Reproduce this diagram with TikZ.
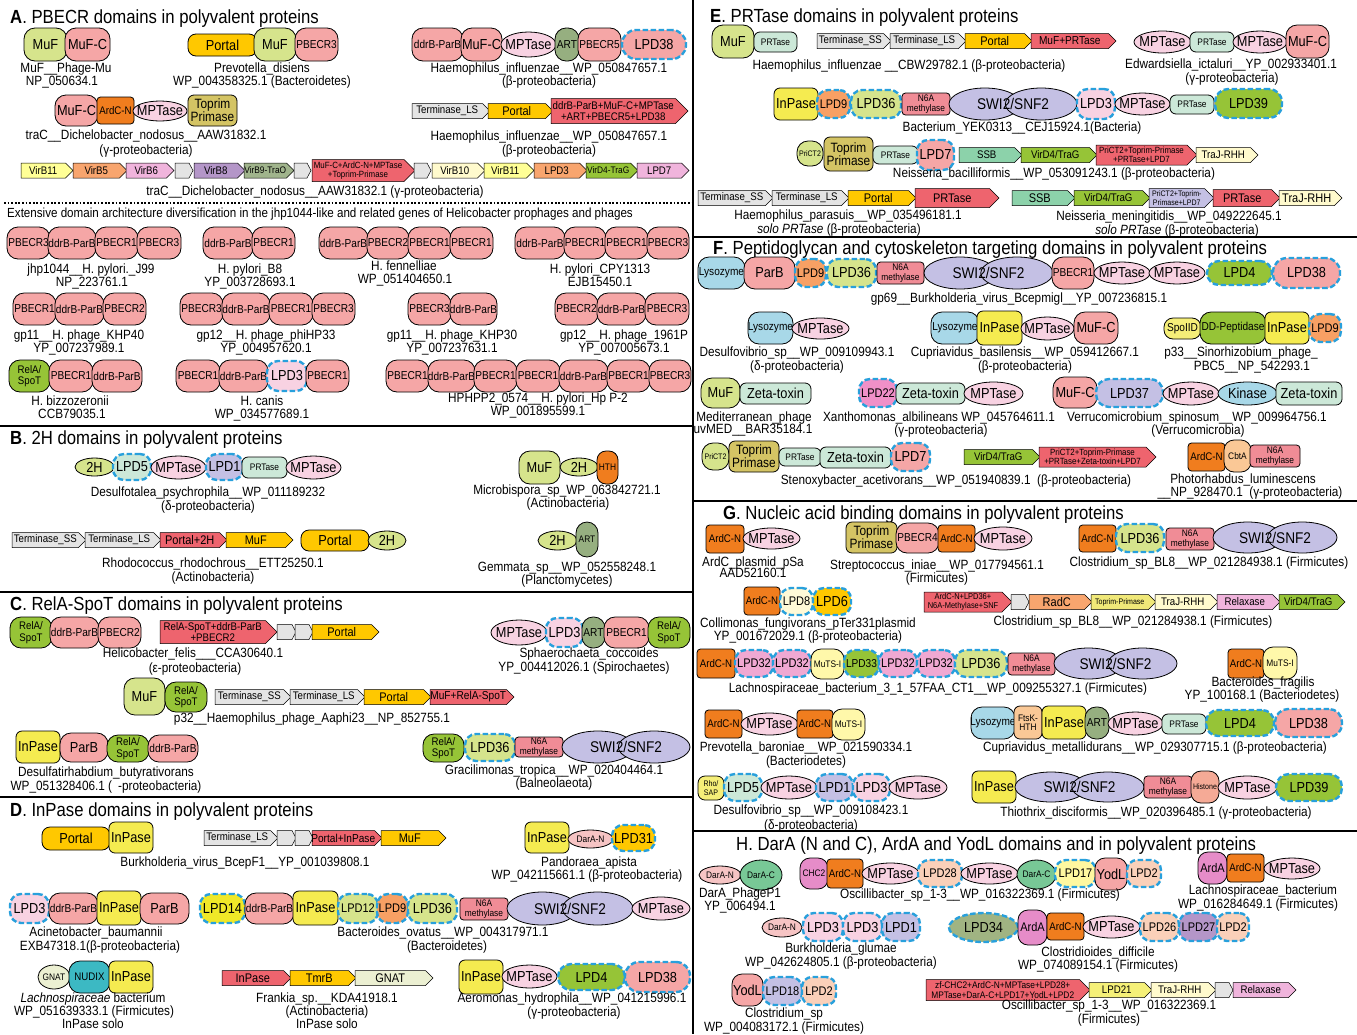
\documentclass[tikz,border=0pt]{standalone}
\usepackage{fontspec}
\setmainfont{Liberation Sans}[FakeStretch=0.88]
\usetikzlibrary{shapes.geometric}
\definecolor{cPk}{RGB}{245,166,166}
\definecolor{cLg}{RGB}{214,228,140}
\definecolor{cYo}{RGB}{255,200,0}
\definecolor{cMp}{RGB}{248,210,226}
\definecolor{cAr}{RGB}{150,175,128}
\definecolor{cTp}{RGB}{212,196,100}
\definecolor{cOc}{RGB}{240,125,30}
\definecolor{cGr}{RGB}{150,196,55}
\definecolor{cIp}{RGB}{245,235,80}
\definecolor{cN6}{RGB}{240,140,150}
\definecolor{cLv}{RGB}{196,192,228}
\definecolor{cMt}{RGB}{204,232,216}
\definecolor{cO9}{RGB}{248,160,100}
\definecolor{cY14}{RGB}{240,232,40}
\definecolor{cLb}{RGB}{168,216,232}
\definecolor{cDn}{RGB}{246,196,196}
\definecolor{cDc}{RGB}{120,200,150}
\definecolor{cChc}{RGB}{230,140,200}
\definecolor{cL28}{RGB}{250,208,185}
\definecolor{cL17}{RGB}{255,248,160}
\definecolor{cL8}{RGB}{255,250,215}
\definecolor{cL32}{RGB}{240,168,210}
\definecolor{cL34}{RGB}{160,180,130}
\definecolor{cL22}{RGB}{240,144,200}
\definecolor{cL21}{RGB}{245,240,120}
\definecolor{cMts}{RGB}{255,248,170}
\definecolor{cSpd}{RGB}{245,238,120}
\definecolor{cCb}{RGB}{250,200,150}
\definecolor{cHs}{RGB}{245,170,150}
\definecolor{cTe}{RGB}{60,185,195}
\definecolor{cCr}{RGB}{255,250,205}
\definecolor{cGn}{RGB}{236,240,210}
\definecolor{cGy}{RGB}{228,228,228}
\definecolor{cRd}{RGB}{238,100,110}
\definecolor{cOr}{RGB}{248,165,110}
\definecolor{cPn}{RGB}{240,180,220}
\definecolor{cPur}{RGB}{180,150,200}
\definecolor{cGg}{RGB}{160,180,140}
\definecolor{cYl}{RGB}{255,255,150}
\definecolor{cSsb}{RGB}{140,210,170}
\definecolor{cTpa}{RGB}{240,232,120}
\definecolor{cBlue}{RGB}{40,160,220}
\newcommand\FzA{\fontsize{14.5}{14}\selectfont}
\newcommand\FzB{\fontsize{12.5}{12.5}\selectfont}
\newcommand\FzC{\fontsize{11.5}{11.5}\selectfont}
\newcommand\FzD{\fontsize{11}{11.5}\selectfont}
\newcommand\FzE{\fontsize{9.5}{9.5}\selectfont}
\newcommand\FzF{\fontsize{8}{8.5}\selectfont}
\newcommand\FzG{\fontsize{11}{11}\selectfont}
\newcommand\FzS{\fontsize{15.5}{15.5}\selectfont}
\newcommand\FzL{\fontsize{13.4}{13.4}\selectfont}
\newcommand\FzT{\fontsize{19}{19}\selectfont}
\newcommand\FzP{\fontsize{13.5}{13}\selectfont}
\newcommand\FzX{\fontsize{13.2}{13.2}\selectfont}
\newcounter{nn}
\tikzset{
 base/.style={draw=black,line width=0.8pt,inner sep=0pt},
 rb/.style={base,rectangle,rounded corners=11pt},
 rm/.style={base,rectangle,rounded corners=6pt},
 rs/.style={base,rectangle,rounded corners=3.5pt},
 rp/.style={base,rectangle,rounded corners=8pt},
 el/.style={base,ellipse},
 lpd/.style={draw=cBlue,line width=2.4pt,dash pattern=on 5.5pt off 2.5pt},
 txt/.style={inner sep=0pt,align=center},
 lab/.style={inner sep=0pt,anchor=base,yshift=-4.7pt,font=\FzL},
 ttl/.style={anchor=base west,inner sep=0pt,font=\FzT},
 sep/.style={line width=2.6pt},
 F1/.style={font=\FzA}, F2/.style={font=\FzB}, F3/.style={font=\FzC},
 F4/.style={font=\FzD}, F5/.style={font=\FzE}, F6/.style={font=\FzF},
 FP/.style={font=\FzP},
 pk/.style={fill=cPk}, lg/.style={fill=cLg}, yo/.style={fill=cYo},
 mp/.style={fill=cMp}, ar/.style={fill=cAr}, tp/.style={fill=cTp},
 oc/.style={fill=cOc}, gr/.style={fill=cGr}, ip/.style={fill=cIp},
 n6/.style={fill=cN6}, lv/.style={fill=cLv}, mt/.style={fill=cMt},
 o9/.style={fill=cO9}, y14/.style={fill=cY14}, lb/.style={fill=cLb},
 dn/.style={fill=cDn}, dc/.style={fill=cDc}, chc/.style={fill=cChc},
 l28/.style={fill=cL28}, l17/.style={fill=cL17}, l8/.style={fill=cL8},
 l32/.style={fill=cL32}, l34/.style={fill=cL34}, l22/.style={fill=cL22},
 l21/.style={fill=cL21}, mts/.style={fill=cMts}, spd/.style={fill=cSpd},
 cb/.style={fill=cCb}, hs/.style={fill=cHs}, te/.style={fill=cTe},
 cr/.style={fill=cCr}, gn/.style={fill=cGn}, gy/.style={fill=cGy},
 rd/.style={fill=cRd}, orx/.style={fill=cOr}, pn2/.style={fill=cPn},
 pur/.style={fill=cPur}, gg/.style={fill=cGg}, yl/.style={fill=cYl},
 ssb/.style={fill=cSsb}, tpa/.style={fill=cTpa}
}
% domain: [font style]{shape style}{x1}{x2}{y1}{y2}{text}
\newcommand\Dm[7][F1]{\stepcounter{nn}%
 \node[#2,minimum width={(#4)-(#3)},minimum height={(#6)-(#5)}] (n\arabic{nn}) at ({((#3)+(#4))/2},{((#5)+(#6))/2}) {};%
 \node[txt,#1] (t\arabic{nn}) at ({((#3)+(#4))/2},{((#5)+(#6))/2}) {#7};}
% gene arrow: [font]{fill style}{x1}{x2}{yc}{h}{text}
\newcommand\Gn[7][\FzG]{\stepcounter{nn}%
 \filldraw[#2,draw=black,line width=0.5pt] (#3,{(#5)-(#6)/2}) -- ({(#4)-(#6)/2},{(#5)-(#6)/2}) -- (#4,#5) -- ({(#4)-(#6)/2},{(#5)+(#6)/2}) -- (#3,{(#5)+(#6)/2}) -- cycle;%
 \node[txt,font=#1] (g\arabic{nn}) at ({((#3)+(#4)-(#6)/2)/2},#5) {#7};}
% blank grey gene: {x1}{x2}{yc}
\newcommand\Gb[3]{\filldraw[gy,draw=black,line width=0.5pt] (#1,{(#3)-7.5}) -- ({(#2)-4},{(#3)-7.5}) -- (#2,#3) -- ({(#2)-4},{(#3)+7.5}) -- (#1,{(#3)+7.5}) -- cycle;}
% label
\newcommand\Lb[4][]{\stepcounter{nn}\node[lab,#1] (l\arabic{nn}) at (#2,#3) {#4};}
% SWI2/SNF2 double ellipse
\newcommand\Swi[4]{\Dm{el,lv}{#1}{(#1)+0.56*((#2)-(#1))}{#3}{#4}{}%
 \Dm{el,lv}{(#2)-0.56*((#2)-(#1))}{#2}{#3}{#4}{}%
 \stepcounter{nn}\node[txt,font=\FzS] (s\arabic{nn}) at ({((#1)+(#2))/2},{((#3)+(#4))/2}) {SWI2/SNF2};}
\begin{document}
\begin{tikzpicture}[x=1pt,y=-1pt]
\useasboundingbox (0,0) rectangle (1357,1034);
\fill[white] (0,0) rectangle (1357,1034);
% ================= A =================
\node[ttl] (TA) at (10,23) {\textbf{A}. PBECR domains in polyvalent proteins};
\Dm{rb,lg}{24}{67}{28}{61}{MuF}
\Dm{rb,pk}{65}{110}{28}{61}{MuF-C}
\Lb{66}{68}{MuF\_\_Phage-Mu}
\Lb{62}{81}{NP\_050634.1}
\Dm{rp,yo}{188}{257}{34}{56}{Portal}
\Dm{rb,lg}{254}{296}{28}{61}{MuF}
\Dm[F3]{rb,pk}{295}{338}{28}{61}{PBECR3}
\Lb{262}{68}{Prevotella\_disiens}
\Lb{262}{81}{WP\_004358325.1 (Bacteroidetes)}
\Dm[F3]{rb,pk}{412}{463}{28}{61}{ddrB-ParB}
\Dm{rb,pk}{461}{502}{28}{61}{MuF-C}
\Dm{el,mp}{501}{556}{32}{57}{MPTase}
\Dm[F3]{rb,ar}{555}{579}{28}{61}{ART}
\Dm[F3]{rb,pk}{578}{621}{28}{61}{PBECR5}
\Dm{rb,pk,lpd,rounded corners=14pt}{622}{686}{30}{59}{LPD38}
\Lb{549}{68}{Haemophilus\_influenzae\_\_WP\_050847657.1}
\Lb{549}{81}{(β-proteobacteria)}
\Dm{rb,pk}{55}{98}{95}{126}{MuF-C}
\Dm[F4]{rs,oc}{97}{134}{97}{124}{ArdC-N}
\Dm{el,mp}{133}{187}{101}{121}{MPTase}
\Dm[FP]{rm,tp}{188}{237}{95}{126}{Toprim\\Primase}
\Lb{146}{135}{traC\_\_Dichelobacter\_nodosus\_\_AAW31832.1}
\Lb{146}{150}{(γ-proteobacteria)}
\Gn{gy}{412}{490}{111}{15}{Terminase\_LS}
\Gn[\FzB]{yo}{488}{553}{111}{15}{Portal}
\Gn[\FzD]{rd}{551}{688}{111}{25}{ddrB-ParB+MuF-C+MPTase\\+ART+PBECR5+LPD38}
\Lb{549}{136}{Haemophilus\_influenzae\_\_WP\_050847657.1}
\Lb{549}{150}{(β-proteobacteria)}
\Gn{yl}{21}{73}{170.5}{15}{VirB11}
\Gn{orx}{73}{127}{170.5}{15}{VirB5}
\Gn{pn2}{126}{174}{170.5}{15}{VirB6}
\Gb{175}{193}{170.5}
\Gn{pur}{194}{245}{170.5}{15}{VirB8}
\Gn[\FzE]{gg}{244}{294}{170.5}{15}{VirB9-TraO}
\Gb{294}{311}{170.5}
\Gn[\fontsize{9}{9.5}\selectfont]{rd}{312}{415}{170.5}{22}{MuF-C+ArdC-N+MPTase\\+Toprim-Primase}
\Gb{414}{431}{170.5}
\Gn{cr}{432}{485}{170.5}{15}{VirB10}
\Gn{yl}{484}{534}{170.5}{15}{VirB11}
\Gn{orx}{534}{587}{170.5}{15}{LPD3}
\Gn[\FzE]{gr}{586}{638}{170.5}{15}{VirD4-TraG}
\Gn{pn2}{637}{689}{170.5}{15}{LPD7}
\Lb{315}{191}{traC\_\_Dichelobacter\_nodosus\_\_AAW31832.1 (γ-proteobacteria)}
\draw[line width=1.8pt,dash pattern=on 1.8pt off 1.8pt] (4,203) -- (692,203);
\node[anchor=base west,inner sep=0pt,font=\FzX] (ext) at (7,217) {Extensive domain architecture diversification in the jhp1044-like and related genes of Helicobacter prophages and phages};
\Dm[F3]{rb,pk}{7}{50}{227}{259}{PBECR3}
\Dm[F3]{rb,pk}{48}{96}{227}{259}{ddrB-ParB}
\Dm[F3]{rb,pk}{95}{138}{227}{259}{PBECR1}
\Dm[F3]{rb,pk}{137}{181}{227}{259}{PBECR3}
\Lb{91}{269}{jhp1044\_\_H. pylori.\_J99}
\Lb{92}{282}{NP\_223761.1}
\Dm[F3]{rb,pk}{203}{253}{227}{259}{ddrB-ParB}
\Dm[F3]{rb,pk}{252}{295}{227}{259}{PBECR1}
\Lb{250}{269}{H. pylori\_B8}
\Lb{250}{282}{YP\_003728693.1}
\Dm[F3]{rb,pk}{319}{368}{227}{259}{ddrB-ParB}
\Dm[F3]{rb,pk}{367}{409}{227}{259}{PBECR2}
\Dm[F3]{rb,pk}{408}{451}{227}{259}{PBECR1}
\Dm[F3]{rb,pk}{450}{493}{227}{259}{PBECR1}
\Lb{404}{266}{H. fennelliae}
\Lb{405}{279}{WP\_051404650.1}
\Dm[F3]{rb,pk}{515}{565}{227}{259}{ddrB-ParB}
\Dm[F3]{rb,pk}{564}{606}{227}{259}{PBECR1}
\Dm[F3]{rb,pk}{605}{648}{227}{259}{PBECR1}
\Dm[F3]{rb,pk}{647}{689}{227}{259}{PBECR3}
\Lb{600}{269}{H. pylori\_CPY1313}
\Lb{600}{282}{EJB15450.1}
\Dm[F3]{rb,pk}{13}{56}{293}{325}{PBECR1}
\Dm[F3]{rb,pk}{55}{104}{293}{325}{ddrB-ParB}
\Dm[F3]{rb,pk}{103}{146}{293}{325}{PBECR2}
\Lb{79}{335}{gp11\_\_H. phage\_KHP40}
\Lb{79}{348}{YP\_007237989.1}
\Dm[F3]{rb,pk}{180}{223}{293}{325}{PBECR3}
\Dm[F3]{rb,pk}{222}{270}{293}{325}{ddrB-ParB}
\Dm[F3]{rb,pk}{269}{313}{293}{325}{PBECR1}
\Dm[F3]{rb,pk}{312}{355}{293}{325}{PBECR3}
\Lb{266}{335}{gp12\_\_H. phage\_phiHP33}
\Lb{266}{348}{YP\_004957620.1}
\Dm[F3]{rb,pk}{408}{451}{293}{325}{PBECR3}
\Dm[F3]{rb,pk}{450}{497}{293}{325}{ddrB-ParB}
\Lb{452}{335}{gp11\_\_H. phage\_KHP30}
\Lb{452}{348}{YP\_007237631.1}
\Dm[F3]{rb,pk}{555}{598}{293}{325}{PBECR2}
\Dm[F3]{rb,pk}{597}{646}{293}{325}{ddrB-ParB}
\Dm[F3]{rb,pk}{645}{689}{293}{325}{PBECR3}
\Lb{624}{335}{gp12\_\_H. phage\_1961P}
\Lb{624}{348}{YP\_007005673.1}
\Dm[F4]{rb,gr}{9}{50}{360}{392}{RelA/\\SpoT}
\Dm[F3]{rb,pk}{49}{93}{360}{392}{PBECR1}
\Dm[F3]{rb,pk}{92}{142}{360}{392}{ddrB-ParB}
\Lb{70}{401}{H. bizzozeronii}
\Lb{72}{414}{CCB79035.1}
\Dm[F3]{rb,pk}{176}{220}{360}{392}{PBECR1}
\Dm[F3]{rb,pk}{219}{268}{360}{392}{ddrB-ParB}
\Dm{rb,mp,lpd}{267}{307}{361}{391}{LPD3}
\Dm[F3]{rb,pk}{306}{349}{360}{392}{PBECR1}
\Lb{262}{401}{H. canis}
\Lb{262}{414}{WP\_034577689.1}
\Dm[F3]{rb,pk}{386}{429}{360}{392}{PBECR1}
\Dm[F3]{rb,pk}{428}{475}{360}{392}{ddrB-ParB}
\Dm[F3]{rb,pk}{474}{517}{360}{392}{PBECR1}
\Dm[F3]{rb,pk}{516}{560}{360}{392}{PBECR1}
\Dm[F3]{rb,pk}{559}{608}{360}{392}{ddrB-ParB}
\Dm[F3]{rb,pk}{607}{650}{360}{392}{PBECR1}
\Dm[F3]{rb,pk}{649}{691}{360}{392}{PBECR3}
\Lb{538}{398}{HPHPP2\_0574\_\_H. pylori\_Hp P-2}
\Lb{538}{411}{WP\_001895599.1}
\draw[sep] (0,426) -- (693,426);
% ================= B =================
\node[ttl] (TB) at (10,444) {\textbf{B}. 2H domains in polyvalent proteins};
\Dm{el,lg}{75}{114}{458}{476}{2H}
\Dm{rb,mt,lpd}{113}{151}{454}{480}{LPD5}
\Dm{el,mp}{151}{206}{456}{479}{MPTase}
\Dm{rb,lv,lpd}{206}{243}{454}{480}{LPD1}
\Dm[F5]{rm,mt}{242}{287}{457}{478}{PRTase}
\Dm{el,mp}{286}{341}{456}{479}{MPTase}
\Lb{208}{492}{Desulfotalea\_psychrophila\_\_WP\_011189232}
\Lb{208}{506}{(δ-proteobacteria)}
\Dm{rb,lg}{519}{560}{451}{484}{MuF}
\Dm{el,lg}{560}{598}{458}{476}{2H}
\Dm[F5]{rb,oc,rounded corners=9pt}{597}{618}{451}{484}{HTH}
\Lb{567}{490}{Microbispora\_sp\_WP\_063842721.1}
\Lb{568}{503}{(Actinobacteria)}
\Gn{gy}{12}{86}{540}{15}{Terminase\_SS}
\Gn{gy}{85}{161}{540}{15}{Terminase\_LS}
\Gn[\FzB]{rd}{160}{227}{540}{15}{Portal+2H}
\Gn[\FzB]{yo}{226}{293}{540}{15}{MuF}
\Dm{rp,yo}{301}{369}{530}{551}{Portal}
\Dm{el,lg}{368}{406}{531}{550}{2H}
\Lb{213}{563}{Rhodococcus\_rhodochrous\_\_ETT25250.1}
\Lb{213}{577}{(Actinobacteria)}
\Dm{el,lg}{538}{577}{531}{550}{2H}
\Dm[F5]{rb,ar}{576}{598}{522}{557}{ART}
\Lb{567}{567}{Gemmata\_sp\_\_WP\_052558248.1}
\Lb{567}{580}{(Planctomycetes)}
\draw[sep] (0,592) -- (693,592);
% ================= C =================
\node[ttl] (TC) at (10,610) {\textbf{C}. RelA-SpoT domains in polyvalent proteins};
\Dm[F4]{rb,gr}{10}{52}{617}{648}{RelA/\\SpoT}
\Dm[F3]{rb,pk}{50}{99}{617}{648}{ddrB-ParB}
\Dm[F3]{rb,pk}{98}{141}{617}{648}{PBECR2}
\Gn[\FzD]{rd}{160}{277}{632}{23}{RelA-SpoT+ddrB-ParB\\+PBECR2}
\Gb{277}{296}{632}
\Gb{295}{313}{632}
\Gn[\FzB]{yo}{312}{379}{632}{15}{Portal}
\Lb{193}{653}{Helicobacter\_felis\_\_\_CCA30640.1}
\Lb{195}{668}{(ε-proteobacteria)}
\Dm{el,mp}{491}{547}{620}{645}{MPTase}
\Dm{rb,mp,lpd}{546}{583}{618}{647}{LPD3}
\Dm[F3]{rb,ar}{582}{605}{617}{648}{ART}
\Dm[F3]{rb,pk}{604}{649}{617}{648}{PBECR1}
\Dm[F4]{rb,gr}{648}{690}{617}{648}{RelA/\\SpoT}
\Lb{589}{653}{Sphaerochaeta\_coccoides}
\Lb{584}{667}{YP\_004412026.1 (Spirochaetes)}
\Dm{rb,lg}{124}{165}{678}{715}{MuF}
\Dm[F4]{rb,gr}{165}{207}{682}{712}{RelA/\\SpoT}
\Gn{gy}{215}{291}{697}{15}{Terminase\_SS}
\Gn{gy}{290}{365}{697}{15}{Terminase\_LS}
\Gn[\FzB]{yo}{364}{431}{697}{15}{Portal}
\Gn[\FzC]{rd}{430}{514}{697}{15}{MuF+RelA-SpoT}
\Lb{312}{718}{p32\_\_Haemophilus\_phage\_Aaphi23\_\_NP\_852755.1}
\Dm{rs,ip,rounded corners=6pt}{16}{60}{731}{763}{InPase}
\Dm{rb,pk}{60}{108}{733}{762}{ParB}
\Dm[F4]{rb,gr}{107}{149}{735}{762}{RelA/\\SpoT}
\Dm[F3]{rb,pk}{148}{198}{735}{762}{ddrB-ParB}
\Lb{106}{772}{Desulfatirhabdium\_butyrativorans}
\Lb{106}{786}{WP\_051328406.1 (\hspace{6pt}-proteobacteria)}
\Dm[F4]{rb,gr}{423}{464}{734}{762}{RelA/\\SpoT}
\Dm{rb,lg,lpd}{465}{515}{734}{761}{LPD36}
\Dm[F5]{rs,n6}{515}{563}{737}{757}{N6A\\methylase}
\Swi{562}{690}{731}{763}
\Lb{554}{770}{Gracilimonas\_tropica\_\_WP\_020404464.1}
\Lb{554}{783}{(Balneolaeota)}
\draw[sep] (0,797) -- (693,797);
% ================= D =================
\node[ttl] (TD) at (10,816) {\textbf{D}. InPase domains in polyvalent proteins};
\Dm{rp,yo}{42}{110}{827}{850}{Portal}
\Dm{rs,ip,rounded corners=6pt}{109}{153}{822}{853}{InPase}
\Gn{gy}{204}{278}{838}{15}{Terminase\_LS}
\Gb{277}{296}{838}
\Gb{295}{313}{838}
\Gn[\FzC]{rd}{312}{382}{838}{15}{Portal+InPase}
\Gn[\FzB]{yo}{381}{446}{838}{15}{MuF}
\Lb{245}{862}{Burkholderia\_virus\_BcepF1\_\_YP\_001039808.1}
\Dm{rs,ip,rounded corners=6pt}{525}{569}{822}{853}{InPase}
\Dm[F5]{el,dn}{568}{613}{830}{848}{DarA-N}
\Dm{rb,yo,lpd}{612}{655}{825}{851}{LPD31}
\Lb{589}{862}{Pandoraea\_apista}
\Lb{587}{875}{WP\_042115661.1 (β-proteobacteria)}
\Dm{rb,mp,lpd}{10}{49}{894}{923}{LPD3}
\Dm[F3]{rb,pk}{49}{98}{893}{924}{ddrB-ParB}
\Dm{rs,ip,rounded corners=6pt}{97}{141}{891}{925}{InPase}
\Dm{rb,pk}{140}{189}{893}{924}{ParB}
\Lb{96}{932}{Acinetobacter\_baumannii}
\Lb{100}{946}{EXB47318.1(β-proteobacteria)}
\Dm{rb,y14,lpd}{200}{245}{894}{923}{LPD14}
\Dm[F3]{rb,pk}{245}{294}{893}{924}{ddrB-ParB}
\Dm{rs,ip,rounded corners=6pt}{293}{338}{891}{925}{InPase}
\Dm[F2]{rb,lg,lpd}{338}{378}{894}{923}{LPD12}
\Dm[F2]{rb,o9,lpd}{377}{408}{894}{923}{LPD9}
\Dm{rb,lg,lpd}{408}{457}{894}{923}{LPD36}
\Dm[F5]{rs,n6}{460}{508}{898}{920}{N6A\\methylase}
\Swi{507}{633}{892}{925}
\Dm{el,mp}{632}{690}{897}{920}{MPTase}
\Lb{443}{932}{Bacteroides\_ovatus\_\_WP\_004317971.1}
\Lb{447}{946}{(Bacteroidetes)}
\Dm[F5]{el,gn}{38}{70}{965}{989}{GNAT}
\Dm[F4]{rb,te}{69}{110}{961}{993}{NUDIX}
\Dm{rs,ip,rounded corners=6pt}{109}{153}{961}{993}{InPase}
\Lb{93}{998}{\textit{Lachnospiraceae} bacterium}
\Lb{94}{1011}{WP\_051639333.1 (Firmicutes)}
\Lb{93}{1024}{InPase solo}
\Gn[\FzB]{rd}{222}{291}{978}{15}{InPase}
\Gn[\FzB]{yo}{290}{356}{978}{15}{TmrB}
\Gn[\FzB]{gn}{355}{433}{978}{15}{GNAT}
\Lb{327}{998}{Frankia\_sp.\_\_KDA41918.1}
\Lb{327}{1011}{(Actinobacteria)}
\Lb{327}{1024}{InPase solo}
\Dm{rs,ip,rounded corners=6pt}{459}{503}{960}{994}{InPase}
\Dm{el,mp}{502}{557}{965}{988}{MPTase}
\Dm{rb,gr,lpd,rounded corners=13pt}{558}{625}{964}{990}{LPD4}
\Dm{rb,pk,lpd,rounded corners=14pt}{625}{690}{962}{992}{LPD38}
\Lb{572}{998}{Aeromonas\_hydrophila\_\_WP\_041215996.1}
\Lb{574}{1012}{(γ-proteobacteria)}
\draw[sep] (693,0) -- (693,1034);
% ================= E =================
\node[ttl] (TE) at (710,22) {\textbf{E}. PRTase domains in polyvalent proteins};
\Dm{rb,lg}{712}{754}{25}{58}{MuF}
\Dm[F5]{rm,mt}{754}{797}{32}{52}{PRTase}
\Gn{gy}{817}{891}{41}{15}{Terminase\_SS}
\Gn{gy}{890}{966}{41}{15}{Terminase\_LS}
\Gn[\FzB]{yo}{965}{1032}{41}{15}{Portal}
\Gn[\FzC]{rd}{1031}{1116}{41}{15}{MuF+PRTase}
\Lb{909}{65}{Haemophilus\_influenzae \_\_CBW29782.1 (β-proteobacteria)}
\Dm{el,mp}{1134}{1191}{31}{53}{MPTase}
\Dm[F5]{rm,mt}{1190}{1234}{32}{52}{PRTase}
\Dm{el,mp}{1233}{1287}{31}{53}{MPTase}
\Dm{rb,pk}{1286}{1329}{25}{58}{MuF-C}
\Lb{1231}{64}{Edwardsiella\_ictaluri\_\_YP\_002933401.1}
\Lb{1232}{78}{(γ-proteobacteria)}
\Dm{rs,ip,rounded corners=6pt}{774}{818}{88}{120}{InPase}
\Dm[F2]{rb,o9,lpd}{817}{850}{90}{118}{LPD9}
\Dm{rb,lg,lpd}{851}{901}{90}{118}{LPD36}
\Dm[F5]{rs,n6}{902}{950}{93}{115}{N6A\\methylase}
\Swi{949}{1077}{88}{120}
\Dm{rb,mp,lpd}{1077}{1115}{89}{119}{LPD3}
\Dm{el,mp}{1115}{1170}{93}{115}{MPTase}
\Dm[F5]{rm,mt}{1170}{1214}{95}{114}{PRTase}
\Dm{rb,gr,lpd,rounded corners=13pt}{1215}{1282}{89}{118}{LPD39}
\Lb{1022}{127}{Bacterium\_YEK0313\_\_CEJ15924.1(Bacteria)}
\Dm[F6]{rb,lg}{797}{823}{141}{166}{PriCT2}
\Dm[FP]{rm,tp}{824}{873}{137}{171}{Toprim\\Primase}
\Dm[F5]{rm,mt}{873}{918}{146}{164}{PRTase}
\Dm{rb,pk,lpd}{917}{954}{140}{170}{LPD7}
\Gn[\FzD]{ssb}{959}{1022}{155}{15}{SSB}
\Gn[\FzD]{gr}{1021}{1097}{155}{15}{VirD4/TraG}
\Gn[\fontsize{9}{9.5}\selectfont]{rd}{1096}{1197}{155}{20}{PriCT2+Toprim-Primase\\+PRTase+LPD7}
\Gn[\FzD]{cr}{1196}{1258}{155}{15}{TraJ-RHH}
\Lb{1054}{173}{Neisseria\_bacilliformis\_\_WP\_053091243.1 (β-proteobacteria)}
\Gn{gy}{698}{773}{198}{15}{Terminase\_SS}
\Gn{gy}{772}{849}{198}{15}{Terminase\_LS}
\Gn[\FzB]{yo}{848}{916}{198}{15}{Portal}
\Gn[\FzB]{rd}{915}{999}{198}{19}{PRTase}
\Lb{848}{215}{Haemophilus\_parasuis\_\_WP\_035496181.1}
\Lb{839}{229}{\textit{solo PRTase} (β-proteobacteria)}
\Gn[\FzB]{ssb}{1012}{1075}{198}{15}{SSB}
\Gn[\FzD]{gr}{1074}{1150}{198}{15}{VirD4/TraG}
\Gn[\FzF]{lv}{1149}{1214}{198}{19}{PriCT2+Toprim-\\Primase+LPD7}
\Gn[\FzB]{rd}{1213}{1280}{198}{17}{PRTase}
\Gn[\FzB]{cr}{1279}{1342}{198}{15}{TraJ-RHH}
\Lb{1169}{216}{Neisseria\_meningitidis\_\_WP\_049222645.1}
\Lb{1177}{230}{\textit{solo PRTase} (β-proteobacteria)}
\draw[sep] (693,237) -- (1357,237);
% ================= F =================
\node[ttl] (TF) at (713,254) {\textbf{F}. Peptidoglycan and cytoskeleton targeting domains in polyvalent proteins};
\Dm[F3]{rb,lb}{698}{745}{257}{289}{Lysozyme}
\Dm{rb,pk}{744}{795}{257}{289}{ParB}
\Dm[F2]{rb,o9,lpd}{795}{826}{259}{287}{LPD9}
\Dm{rb,lg,lpd}{827}{876}{259}{287}{LPD36}
\Dm[F5]{rs,n6}{877}{924}{262}{284}{N6A\\methylase}
\Swi{924}{1053}{257}{289}
\Dm[F3]{rb,pk}{1052}{1094}{257}{289}{PBECR1}
\Dm{el,mp}{1094}{1150}{262}{284}{MPTase}
\Dm{el,mp}{1149}{1205}{262}{284}{MPTase}
\Dm{rb,gr,lpd,rounded corners=12pt}{1207}{1272}{261}{285}{LPD4}
\Dm{rb,pk,lpd,rounded corners=14pt}{1273}{1340}{258}{288}{LPD38}
\Lb{1019}{298}{gp69\_\_Burkholderia\_virus\_Bcepmigl\_\_YP\_007236815.1}
\Dm[F3]{rb,lb}{748}{793}{312}{344}{Lysozyme}
\Dm{el,mp}{792}{849}{318}{339}{MPTase}
\Lb{797}{352}{Desulfovibrio\_sp\_\_WP\_009109943.1}
\Lb{797}{366}{(δ-proteobacteria)}
\Dm[F3]{rb,lb}{931}{979}{312}{344}{Lysozyme}
\Dm{rs,ip,rounded corners=6pt}{977}{1022}{311}{345}{InPase}
\Dm{el,mp}{1021}{1074}{317}{340}{MPTase}
\Dm{rb,pk}{1074}{1118}{312}{344}{MuF-C}
\Lb{1025}{352}{Cupriavidus\_basilensis\_\_WP\_059412667.1}
\Lb{1025}{366}{(β-proteobacteria)}
\Dm[F3]{rb,spd,rounded corners=9pt}{1164}{1201}{318}{339}{SpoIID}
\Dm[F3]{rb,gr}{1200}{1266}{312}{344}{DD-Peptidase}
\Dm{rs,ip,rounded corners=6pt}{1265}{1309}{312}{344}{InPase}
\Dm[F2]{rb,o9,lpd}{1309}{1341}{314}{342}{LPD9}
\Lb{1241}{352}{p33\_\_Sinorhizobium\_phage\_}
\Lb{1252}{366}{PBC5\_\_NP\_542293.1}
\Dm{rb,lg}{701}{740}{378}{408}{MuF}
\Dm{rm,mt}{740}{811}{383}{404}{Zeta-toxin}
\Lb{754}{417}{Mediterranean\_phage}
\Lb{753}{429}{uvMED\_\_BAR35184.1}
\Dm[F2]{rb,l22,lpd}{859}{897}{379}{407}{LPD22}
\Dm{rm,mt}{896}{965}{383}{404}{Zeta-toxin}
\Dm{el,mp}{964}{1023}{382}{405}{MPTase}
\Lb{939}{417}{Xanthomonas\_albilineans WP\_045764611.1}
\Lb{941}{430}{(γ-proteobacteria)}
\Dm{rb,pk}{1053}{1097}{377}{408}{MuF-C}
\Dm{rb,lv,lpd,rounded corners=13pt}{1096}{1163}{379}{407}{LPD37}
\Dm{el,mp}{1163}{1219}{382}{405}{MPTase}
\Dm{el,lb}{1218}{1277}{382}{405}{Kinase}
\Dm{rm,mt}{1276}{1342}{382}{405}{Zeta-toxin}
\Lb{1197}{417}{Verrucomicrobium\_spinosum\_\_WP\_009964756.1}
\Lb{1198}{430}{(Verrucomicrobia)}
\Dm[F6]{rb,lg}{702}{729}{443}{470}{PriCT2}
\Dm[FP]{rm,tp}{729}{779}{441}{472}{Toprim\\Primase}
\Dm[F5]{rm,mt}{779}{821}{448}{466}{PRTase}
\Dm{rm,mt}{820}{891}{447}{468}{Zeta-toxin}
\Dm{rb,pk,lpd}{891}{930}{443}{471}{LPD7}
\Gn[\FzD]{gr}{964}{1040}{457}{15}{VirD4/TraG}
\Gn[\fontsize{9}{9.5}\selectfont]{rd}{1039}{1156}{457}{20}{PriCT2+Toprim-Primase\\+PRTase+Zeta-toxin+LPD7}
\Lb{956}{480}{Stenoxybacter\_acetivorans\_\_WP\_051940839.1\ \ (β-proteobacteria)}
\Dm[F4]{rs,oc}{1188}{1225}{443}{471}{ArdC-N}
\Dm[F5]{rb,cb,rounded corners=10pt}{1224}{1251}{440}{472}{CbtA}
\Dm[F5]{rs,n6}{1250}{1300}{445}{467}{N6A\\methylase}
\Lb{1243}{479}{Photorhabdus\_luminescens}
\Lb{1250}{492}{\_\_NP\_928470.1\ \ (γ-proteobacteria)}
\draw[sep] (693,501) -- (1357,501);
% ================= G =================
\node[ttl] (TG) at (723,519) {\textbf{G}. Nucleic acid binding domains in polyvalent proteins};
\Dm[F4]{rs,oc}{706}{744}{525}{553}{ArdC-N}
\Dm{el,mp}{743}{800}{528}{549}{MPTase}
\Lb{753}{562}{ArdC\_plasmid\_pSa}
\Lb{753}{573}{AAD52160.1}
\Dm[FP]{rm,tp}{846}{897}{522}{553}{Toprim\\Primase}
\Dm[F3]{rb,pk}{896}{939}{523}{553}{PBECR4}
\Dm[F4]{rs,oc}{938}{975}{525}{552}{ArdC-N}
\Dm{el,mp}{974}{1032}{527}{550}{MPTase}
\Lb{937}{565}{Streptococcus\_iniae\_\_WP\_017794561.1}
\Lb{937}{578}{(Firmicutes)}
\Dm[F4]{rs,oc}{1079}{1116}{525}{552}{ArdC-N}
\Dm{rb,lg,lpd}{1116}{1164}{524}{552}{LPD36}
\Dm[F5]{rs,n6}{1166}{1214}{528}{550}{N6A\\methylase}
\Swi{1213}{1337}{522}{553}
\Lb{1209}{562}{Clostridium\_sp\_BL8\_\_WP\_021284938.1 (Firmicutes)}
\Dm[F4]{rs,oc}{744}{780}{587}{615}{ArdC-N}
\Dm[F2]{rb,l8,lpd}{780}{813}{588}{615}{LPD8}
\Dm{rb,yo,lpd}{813}{851}{588}{615}{LPD6}
\Lb{808}{623}{Collimonas\_fungivorans\_pTer331plasmid}
\Lb{808}{636}{YP\_001672029.1 (β-proteobacteria)}
\Gn[\fontsize{8.5}{9}\selectfont]{rd}{924}{1012}{602}{20}{ArdC-N+LPD36+\\N6A-Methylase+SNF}
\Gb{1011}{1029}{602}
\Gn[\FzB]{orx}{1029}{1092}{602}{15}{RadC}
\Gn[\FzF]{tpa}{1091}{1156}{602}{15}{Toprim-Primase}
\Gn[\FzD]{cr}{1155}{1218}{602}{15}{TraJ-RHH}
\Gn[\FzD]{pn2}{1217}{1280}{602}{15}{Relaxase}
\Gn[\FzD]{gr}{1279}{1345}{602}{15}{VirD4/TraG}
\Lb{1133}{621}{Clostridium\_sp\_BL8\_\_WP\_021284938.1 (Firmicutes)}
\Dm[F4]{rs,oc}{697}{735}{649}{678}{ArdC-N}
\Dm[F2]{rb,l32,lpd}{735}{773}{650}{677}{LPD32}
\Dm[F2]{rb,l32,lpd}{773}{811}{650}{677}{LPD32}
\Dm[F5]{rb,mts,rounded corners=10pt}{811}{844}{649}{679}{MuTS-I}
\Dm[F3]{rb,gr,lpd}{844}{879}{650}{677}{LPD33}
\Dm[F2]{rb,l32,lpd}{879}{917}{650}{677}{LPD32}
\Dm[F2]{rb,l32,lpd}{917}{955}{650}{677}{LPD32}
\Dm{rb,lg,lpd}{955}{1007}{650}{677}{LPD36}
\Dm[F5]{rs,n6}{1008}{1055}{653}{675}{N6A\\methylase}
\Swi{1054}{1177}{648}{679}
\Lb{938}{688}{Lachnospiraceae\_bacterium\_3\_1\_57FAA\_CT1\_\_WP\_009255327.1 (Firmicutes)}
\Dm[F4]{rs,oc}{1228}{1264}{649}{678}{ArdC-N}
\Dm[F5]{rb,mts,rounded corners=10pt}{1263}{1297}{647}{679}{MuTS-I}
\Lb{1263}{682}{Bacteroides\_fragilis}
\Lb{1262}{695}{YP\_100168.1 (Bacteriodetes)}
\Dm[F4]{rs,oc}{705}{742}{710}{738}{ArdC-N}
\Dm{el,mp}{741}{798}{713}{735}{MPTase}
\Dm[F4]{rs,oc}{797}{833}{710}{738}{ArdC-N}
\Dm[F5]{rb,mts,rounded corners=10pt}{832}{865}{709}{740}{MuTS-I}
\Lb{806}{747}{Prevotella\_baroniae\_\_WP\_021590334.1}
\Lb{806}{761}{(Bacteriodetes)}
\Dm[F3]{rb,lb}{971}{1015}{707}{739}{Lysozyme}
\Dm[F5]{rb,cb,rounded corners=6pt}{1014}{1042}{706}{739}{FtsK-\\HTH}
\Dm{rs,ip,rounded corners=6pt}{1042}{1086}{706}{739}{InPase}
\Dm[F3]{rb,ar}{1085}{1109}{707}{739}{ART}
\Dm{el,mp}{1108}{1163}{712}{735}{MPTase}
\Dm[F5]{rm,mt}{1162}{1206}{714}{734}{PRTase}
\Dm{rb,gr,lpd,rounded corners=12pt}{1206}{1274}{710}{736}{LPD4}
\Dm{rb,pk,lpd,rounded corners=13pt}{1275}{1342}{709}{737}{LPD38}
\Lb{1155}{747}{Cupriavidus\_metallidurans\_\_WP\_029307715.1 (β-proteobacteria)}
\Dm[F6]{rb,spd,rounded corners=7pt}{698}{724}{776}{800}{Rho/\\SAP}
\Dm{rb,mt,lpd}{724}{762}{774}{801}{LPD5}
\Dm{el,mp}{761}{817}{776}{799}{MPTase}
\Dm{rb,lv,lpd}{816}{853}{774}{801}{LPD1}
\Dm{rb,mp,lpd}{853}{890}{774}{801}{LPD3}
\Dm{el,mp}{889}{947}{776}{799}{MPTase}
\Lb{811}{810}{Desulfovibrio\_sp\_\_WP\_009108423.1}
\Lb{811}{825}{(δ-proteobacteria)}
\Dm{rs,ip,rounded corners=6pt}{972}{1016}{771}{803}{InPase}
\Swi{1015}{1144}{772}{802}
\Dm[F5]{rs,n6}{1144}{1192}{776}{798}{N6A\\methylase}
\Dm[F6]{rb,hs,rounded corners=10pt}{1191}{1219}{771}{803}{Histone}
\Dm{el,mp}{1218}{1277}{776}{799}{MPTase}
\Dm{rb,gr,lpd,rounded corners=13pt}{1276}{1342}{774}{801}{LPD39}
\Lb{1156}{812}{Thiothrix\_disciformis\_\_WP\_020396485.1 (γ-proteobacteria)}
\draw[sep] (693,831) -- (1357,831);
% ================= H =================
\node[ttl] (TH) at (736,850) {H. DarA (N and C), ArdA and YodL domains and in polyvalent proteins};
\Dm[F5]{el,dn}{699}{741}{866}{884}{DarA-N}
\Dm[F5]{el,dc}{740}{782}{860}{890}{DarA-C}
\Lb{740}{893}{DarA\_PhageP1}
\Lb{740}{906}{YP\_006494.1}
\Dm[F5]{rb,chc,rounded corners=10pt}{800}{828}{858}{889}{CHC2}
\Dm[F4]{rs,oc}{827}{863}{859}{888}{ArdC-N}
\Dm{el,mp}{862}{919}{863}{884}{MPTase}
\Dm[F2]{rb,l28,lpd}{918}{962}{860}{887}{LPD28}
\Dm{el,mp}{961}{1018}{863}{884}{MPTase}
\Dm[F5]{el,dc}{1017}{1056}{860}{889}{DarA-C}
\Dm[F2]{rb,l17,lpd}{1055}{1096}{860}{887}{LPD17}
\Dm{rb,pk,rounded corners=10pt}{1095}{1127}{858}{890}{YodL}
\Dm[F2]{rb,l28,lpd,rounded corners=10pt}{1127}{1161}{860}{887}{LPD2}
\Lb{980}{894}{Oscillibacter\_sp\_1-3\_\_WP\_016322369.1 (Firmicutes)}
\Dm[F2]{rb,chc,rounded corners=10pt}{1198}{1227}{852}{884}{ArdA}
\Dm[F4]{rs,oc}{1227}{1264}{854}{882}{ArdC-N}
\Dm{el,mp}{1264}{1320}{858}{879}{MPTase}
\Lb{1263}{890}{Lachnospiraceae\_bacterium}
\Lb{1258}{904}{WP\_016284649.1 (Firmicutes)}
\Dm[F5]{el,dn}{762}{802}{918}{937}{DarA-N}
\Dm{rb,mp,lpd}{803}{843}{913}{941}{LPD3}
\Dm{rb,mp,lpd}{843}{882}{913}{941}{LPD3}
\Dm{rb,lv,lpd}{882}{920}{913}{941}{LPD1}
\Lb{841}{948}{Burkholderia\_glumae}
\Lb{841}{962}{WP\_042624805.1 (β-proteobacteria)}
\Dm{el,l34,lpd}{949}{1018}{913}{942}{LPD34}
\Dm[F2]{rb,chc,rounded corners=10pt}{1018}{1047}{910}{945}{ArdA}
\Dm[F4]{rs,oc}{1047}{1084}{913}{940}{ArdC-N}
\Dm{el,mp}{1083}{1140}{916}{938}{MPTase}
\Dm[F2]{rb,l28,lpd}{1140}{1179}{913}{941}{LPD26}
\Dm[F2]{rb,pur,lpd}{1179}{1218}{913}{941}{LPD27}
\Dm[F2]{rb,l28,lpd,rounded corners=10pt}{1217}{1249}{913}{941}{LPD2}
\Lb{1098}{952}{Clostridioides\_difficile}
\Lb{1098}{965}{WP\_074089154.1 (Firmicutes)}
\Dm{rb,pk,rounded corners=10pt}{732}{763}{974}{1006}{YodL}
\Dm[F2]{rb,lv,lpd}{763}{802}{977}{1005}{LPD18}
\Dm[F2]{rb,l28,lpd,rounded corners=10pt}{802}{836}{977}{1005}{LPD2}
\Lb{784}{1013}{Clostridium\_sp}
\Lb{784}{1027}{WP\_004083172.1 (Firmicutes)}
\Gn[\fontsize{9.5}{10}\selectfont]{rd}{926}{1090}{990}{21}{zf-CHC2+ArdC-N+MPTase+LPD28+\\MPTase+DarA-C+LPD17+YodL+LPD2}
\Gn[\FzD]{l21}{1089}{1152}{990}{15}{LPD21}
\Gn[\FzD]{cr}{1151}{1216}{990}{15}{TraJ-RHH}
\Gb{1215}{1233}{990}
\Gn[\FzD]{pn2}{1233}{1296}{990}{15}{Relaxase}
\Lb{1109}{1005}{Oscillibacter\_sp\_1-3\_\_WP\_016322369.1}
\Lb{1109}{1019}{(Firmicutes)}
\end{tikzpicture}
\end{document}
